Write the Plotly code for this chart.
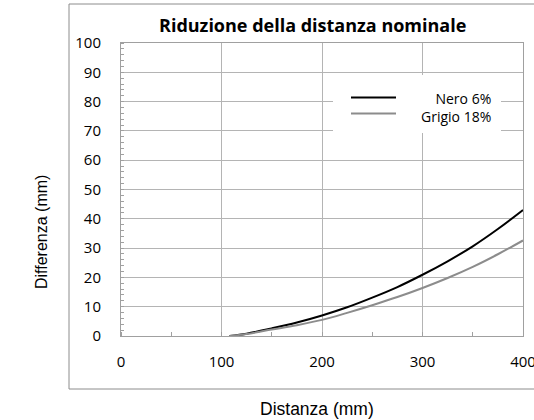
import plotly.graph_objects as go

# Data
distanza = [108, 125, 150, 175, 200, 225, 250, 275, 300, 325, 350, 375, 400]
nero_6 = [0, 0.8, 2.6, 4.6, 7.0, 9.8, 13.1, 16.7, 20.9, 25.5, 30.6, 36.5, 43.0]
grigio_18 = [0, 0.7, 2.2, 3.7, 5.5, 7.9, 10.5, 13.3, 16.4, 19.8, 23.6, 27.9, 32.6]
series_names = ["Nero 6%", "Grigio 18%"]
series_colors = ["#000000", "#8c8c8c"]
x_ticks = [0, 100, 200, 300, 400]
y_ticks = list(range(0, 101, 10))

title_text = "Riduzione della distanza nominale"
x_title = "Distanza (mm)"
y_title = "Differenza (mm)"

W, H = 534, 420
L, R, T, B = 121, 11, 43, 84
pw, ph = W - L - R, H - T - B

def px(xp):
    return (xp - L) / pw

def py(yp):
    return (H - B - yp) / ph

fig = go.Figure()
for name, vals, col in zip(series_names, [nero_6, grigio_18], series_colors):
    fig.add_trace(go.Scatter(x=distanza, y=vals, mode="lines", name=name,
                             line=dict(color=col, width=2, shape="spline"),
                             showlegend=False))

grid = "#b4b4b4"
tickfont = dict(family="Open Sans", size=15, color="#000000")

fig.update_layout(
    width=W, height=H,
    margin=dict(l=L, r=R, t=T, b=B, autoexpand=False),
    paper_bgcolor="white", plot_bgcolor="white",
    font=dict(family="Open Sans", size=15, color="#000000"),
    xaxis=dict(range=[0, 400], tickvals=x_ticks, ticktext=[str(v) for v in x_ticks],
               showgrid=True, gridcolor=grid, gridwidth=1, automargin=False,
               showline=True, linecolor="#a0a0a0", linewidth=1, mirror=True,
               ticks="", ticklabelstandoff=12, tickfont=tickfont, zeroline=False,
               ticklabeloverflow="allow",
               minor=dict(dtick=50, ticks="inside", ticklen=4, tickcolor="#a0a0a0",
                          showgrid=False)),
    yaxis=dict(range=[0, 100], tickvals=y_ticks, ticktext=[str(v) for v in y_ticks],
               showgrid=True, gridcolor=grid, gridwidth=1, automargin=False,
               showline=True, linecolor="#a0a0a0", linewidth=1, mirror=True,
               ticks="", ticklabelstandoff=16, tickfont=tickfont, zeroline=False,
               minor=dict(dtick=2, ticks="inside", ticklen=3, tickcolor="#a0a0a0",
                          showgrid=False)),
)

shapes = []
# outer chart border
shapes.append(dict(type="rect", xref="paper", yref="paper",
                   x0=px(69), x1=px(545), y0=py(389), y1=py(4),
                   line=dict(color="#8c8c8c", width=1), fillcolor="rgba(0,0,0,0)"))
# legend box
shapes.append(dict(type="rect", xref="paper", yref="paper",
                   x0=px(333), x1=px(501), y0=py(133), y1=py(75),
                   line=dict(width=0), fillcolor="white", layer="above"))
leg_y = [97.5, 113.5]
for yy, col in zip(leg_y, series_colors):
    shapes.append(dict(type="line", xref="paper", yref="paper",
                       x0=px(351), x1=px(396), y0=py(yy), y1=py(yy),
                       line=dict(color=col, width=2), layer="above"))
fig.update_layout(shapes=shapes)

ann = []
ann.append(dict(xref="paper", yref="paper", x=px(493), y=py(107), text="<br>".join(series_names),
                showarrow=False, xanchor="right", yanchor="middle", align="right",
                font=dict(family="Open Sans", size=14, color="#000000")))
ann.append(dict(xref="paper", yref="paper", x=px(312), y=py(25), text="<b>" + title_text + "</b>",
                showarrow=False, xanchor="center", yanchor="middle",
                font=dict(family="Open Sans", size=18, color="#000000")))
ann.append(dict(xref="paper", yref="paper", x=px(317), y=py(409), text=x_title,
                showarrow=False, xanchor="center", yanchor="middle",
                font=dict(family="Liberation Sans", size=17.5, color="#000000")))
ann.append(dict(xref="paper", yref="paper", x=px(41), y=py(232), text=y_title,
                showarrow=False, xanchor="center", yanchor="middle", textangle=-90,
                font=dict(family="Liberation Sans", size=16, color="#000000")))
fig.update_layout(annotations=ann)

fig.write_html("out.html", config={"displayModeBar": False},
               post_script="document.body.style.margin='0';")
